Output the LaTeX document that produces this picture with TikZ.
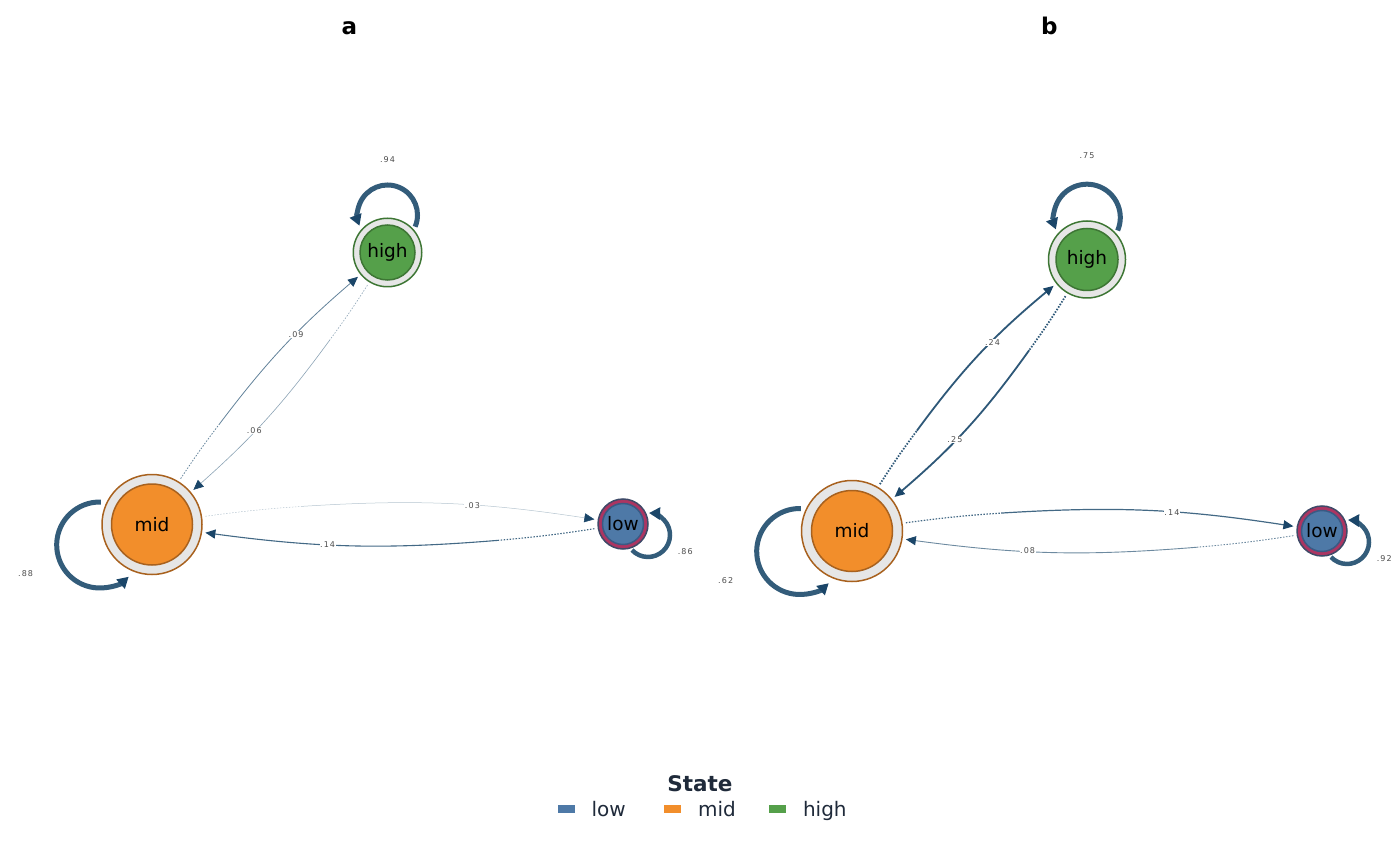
\documentclass[tikz,border=0pt]{standalone}
\usepackage{fontspec}
\setmainfont{DejaVu Sans}
\newfontfamily\lblfont[LetterSpace=14]{DejaVu Sans}
\usetikzlibrary{calc}
\usetikzlibrary{arrows.meta}

\definecolor{edgecol}{HTML}{2E5878}
\definecolor{tipcol}{HTML}{1B4669}
\definecolor{loopcol}{HTML}{335C7A}
\definecolor{lowfill}{HTML}{4E79A7}
\definecolor{lowline}{HTML}{3A5A84}
\definecolor{lowring}{HTML}{AC3562}
\definecolor{lowedge}{HTML}{3E4A68}
\definecolor{midfill}{HTML}{F28E2B}
\definecolor{midline}{HTML}{A8611E}
\definecolor{highfill}{HTML}{55A04A}
\definecolor{highline}{HTML}{3D7634}
\definecolor{ringfill}{HTML}{E6E6E6}
\definecolor{labelcol}{HTML}{4D4D4D}
\definecolor{legendcol}{HTML}{1F2A3A}

\tikzset{
	soto/.style={circle, line width=1.5pt, inner sep=0pt, outer sep=4pt},
	sotohigh/.style={soto, draw=highline, fill=ringfill},
	sotomid/.style={soto, draw=midline, fill=ringfill},
	sotolow/.style={soto, draw=lowedge, fill=lowring},
	naka/.style={circle, line width=1.5pt, inner sep=0pt, font=\fontsize{18.5}{20}\selectfont},
	nakahigh/.style={naka, draw=highline, fill=highfill},
	nakamid/.style={naka, draw=midline, fill=midfill},
	nakalow/.style={naka, draw=lowline, fill=lowfill},
	edge/.style={line cap=butt},
	loopline/.style={draw=loopcol, -{Triangle[length=11pt, width=12pt, color=tipcol]}},
	elabel/.style={fill=white, inner sep=0.5pt, text=labelcol, font=\lblfont\fontsize{8}{9}\selectfont},
	title/.style={font=\bfseries\fontsize{23}{26}\selectfont, anchor=base},
	legkey/.style={minimum width=17pt, minimum height=8pt, inner sep=0pt},
	legtext/.style={anchor=base west, text=legendcol, font=\fontsize{20}{22}\selectfont},
}

\begin{document}
\begin{tikzpicture}[x=1pt, y=1pt]
		\newcommand\jotai[6]{
			% (name, x, y, R, r, kind)
			\node[soto#6, minimum size=#4pt] (#1) at (#2, #3) {};
			\node[naka#6, minimum size=#5pt] (#1n) at (#1) {#6};
		}
		\newcommand\yaji[6]{
			% (from, to, bend, width, strength, label)
			\pgfmathsetmacro\bendA{#3*0.23}
			\pgfmathsetmacro\bendB{#3*0.77}
			\path (#1) to[bend left=#3] coordinate[pos=0.23] (#1#2) coordinate[pos=0.7] (#1#2l) (#2);
			\draw[edge, draw=edgecol!#5!white, line width=#4pt, dash pattern=on 1.5pt off 1.5pt] (#1) to[bend left=\bendA] (#1#2);
			\draw[edge, draw=edgecol!#5!white, line width=#4pt, -{Triangle[length=10pt, width=9pt, color=tipcol]}] (#1#2) to[bend left=\bendB] (#2);
			\node[elabel] at (#1#2l) {#6};
		}
		\newcommand\wa[6]{
			% (node, dir, d, r, width, label)
			\coordinate (#1c) at ($(#1)+(#2:#3)$);
			\draw[loopline, line width=#5pt] ($(#1c)+(#2-113:#4)$) arc (#2-113:#2+111:#4);
			\node[elabel] (#1p) at ($(#1)+(#2:#3+1.85*#4)$) {#6};
		}
		
		\useasboundingbox (0, 0) rectangle (1400, -866);
		
		% panel a
		\node[title] (ta) at (349.5, -34.3) {a};
		\jotai{amid}{152}{-524.5}{100}{81}{mid}
		\jotai{ahigh}{387.5}{-252.5}{68.5}{55}{high}
		\jotai{alow}{623}{-524}{50}{41}{low}
		\yaji{amid}{ahigh}{8}{0.8}{75}{.09}
		\yaji{ahigh}{amid}{8}{0.6}{55}{.06}
		\yaji{amid}{alow}{8}{0.5}{35}{.03}
		\yaji{alow}{amid}{8}{1.1}{90}{.14}
		\wa{ahigh}{90}{37.5}{30}{5}{.94}
		\wa{amid}{201.4}{56.2}{43}{5}{.88}
		\wa{alow}{-23.7}{27.3}{22}{4.5}{.86}
		
		% panel b
		\node[title] (tb) at (1049.3, -34.3) {b};
		\jotai{bmid}{852}{-531}{101}{81}{mid}
		\jotai{bhigh}{1087}{-259.5}{77}{62}{high}
		\jotai{blow}{1322}{-531}{50}{41}{low}
		\yaji{bmid}{bhigh}{9}{1.8}{100}{.24}
		\yaji{bhigh}{bmid}{9}{1.8}{100}{.25}
		\yaji{bmid}{blow}{8}{1.2}{90}{.14}
		\yaji{blow}{bmid}{8}{0.9}{70}{.08}
		\wa{bhigh}{90}{42}{33.3}{5}{.75}
		\wa{bmid}{201.4}{56.2}{43}{5}{.62}
		\wa{blow}{-23.7}{27.3}{22}{4.5}{.92}
		
		% legend
		\node[font=\bfseries\fontsize{21.5}{24}\selectfont, text=legendcol] (state) at (700, -784) {State};
		\node[legkey, fill=lowfill] (klow) at (566.5, -809) {};
		\node[legtext] (llow) at (588, -816.5) {low};
		\node[legkey, fill=midfill] (kmid) at (672, -809) {};
		\node[legtext] (lmid) at (694.5, -816.5) {mid};
		\node[legkey, fill=highfill] (khigh) at (777.5, -809) {};
		\node[legtext] (lhigh) at (799.5, -816.5) {high};
		
	\end{tikzpicture}
\end{document}
